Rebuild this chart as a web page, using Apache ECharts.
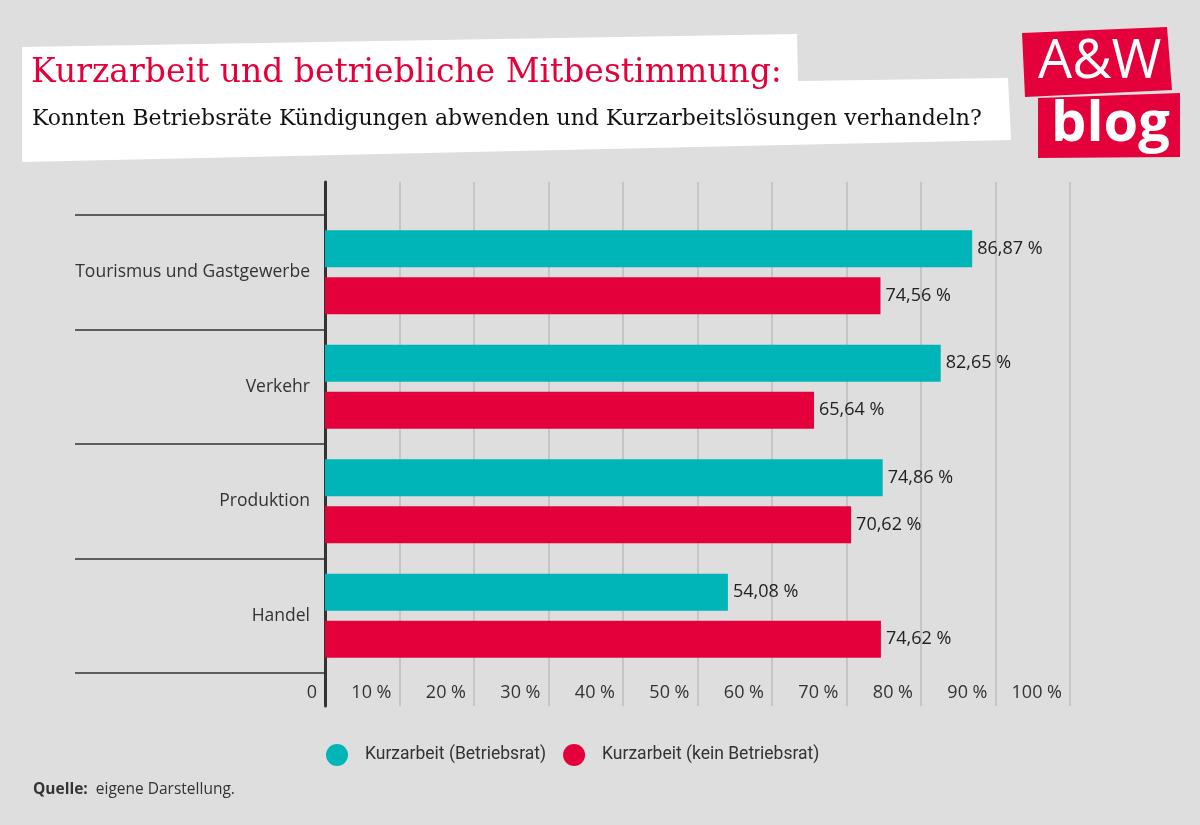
<!DOCTYPE html>
<html>
<head>
<meta charset="utf-8">
<script src="https://cdn.jsdelivr.net/npm/echarts@6/dist/echarts.min.js"></script>
<style>
html,body{margin:0;padding:0;background:#dedede;}
#chart{width:1200px;height:825px;}
</style>
</head>
<body>
<div id="chart"></div>
<script>
const categories = ['Tourismus und Gastgewerbe', 'Verkehr', 'Produktion', 'Handel'];
const seriesNames = ['Kurzarbeit (Betriebsrat)', 'Kurzarbeit (kein Betriebsrat)'];
const withBR = [86.87, 82.65, 74.86, 54.08];
const withoutBR = [74.56, 65.64, 70.62, 74.62];
const xTicks = [0, 10, 20, 30, 40, 50, 60, 70, 80, 90, 100];

const TEAL = '#00b5b8';
const RED = '#e4003a';
const FONT = '"Open Sans", "Noto Sans", sans-serif';

const chart = echarts.init(document.getElementById('chart'));

const fmtVal = v => v.toFixed(2).replace('.', ',') + ' %';
const fmtTick = v => (v === 0 ? '0' : v + ' %');

const option = {
  backgroundColor: '#dedede',
  animation: false,
  title: [
    {
      text: 'Kurzarbeit und betriebliche Mitbestimmung:',
      left: 31, top: 57, padding: 0,
      textStyle: {fontFamily: '"DejaVu Serif", serif', fontSize: 33, fontWeight: 'normal', color: RED}
    },
    {
      text: 'Konnten Betriebsräte Kündigungen abwenden und Kurzarbeitslösungen verhandeln?',
      left: 32, top: 108, padding: 0,
      textStyle: {fontFamily: '"DejaVu Serif", serif', fontSize: 22, fontWeight: 'normal', color: '#111'}
    },
    {
      text: '{b|Quelle:}  eigene Darstellung.',
      left: 33, top: 782, padding: 0,
      textStyle: {
        fontFamily: FONT, fontSize: 15.5, color: '#333', fontWeight: 'normal',
        rich: {b: {fontFamily: FONT, fontSize: 15.5, fontWeight: 'bold', color: '#333'}}
      }
    }
  ],
  legend: {
    data: seriesNames,
    left: 326, top: 744, padding: 0,
    icon: 'circle',
    itemWidth: 22, itemHeight: 22,
    itemGap: 17,
    textStyle: {fontFamily: 'Roboto, sans-serif', fontSize: 17.5, color: '#333', padding: [0, 0, 0, 12]}
  },
  grid: [
    {left: 325, width: 745, top: 182, height: 524, containLabel: false},
    {left: 325, width: 745, top: 215, height: 458, containLabel: false}
  ],
  xAxis: [
    {
      gridIndex: 0, type: 'value', min: 0, max: 100, interval: 10,
      axisLine: {show: false}, axisTick: {show: false}, axisLabel: {show: false},
      splitLine: {show: true, lineStyle: {color: '#bdbdbd', width: 1.5}}
    },
    {
      gridIndex: 1, type: 'value', min: 0, max: 100, interval: 10,
      axisLine: {show: false}, axisTick: {show: false},
      splitLine: {show: false},
      axisLabel: {
        show: true, margin: 10, align: 'right', padding: [0, 8, 0, 0],
        lineHeight: 20,
        fontFamily: FONT, fontSize: 18, color: '#333',
        formatter: fmtTick,
        customValues: xTicks
      }
    }
  ],
  yAxis: [
    {
      gridIndex: 0, type: 'value', min: 0, max: 1,
      axisLine: {show: true, onZero: false, lineStyle: {color: '#333', width: 3}},
      axisTick: {show: false}, axisLabel: {show: false}, splitLine: {show: false}
    },
    {
      gridIndex: 1, type: 'category', data: categories, inverse: true,
      axisLine: {show: false},
      axisTick: {show: true, length: 250, lineStyle: {color: '#333', width: 1.5}},
      axisLabel: {margin: 15, fontFamily: FONT, fontSize: 17.5, color: '#333'},
      splitLine: {show: false}
    }
  ],
  series: [
    {
      name: seriesNames[0], type: 'bar', xAxisIndex: 1, yAxisIndex: 1,
      data: withBR, barWidth: 37, barGap: '27%',
      itemStyle: {color: TEAL},
      label: {show: true, position: 'right', distance: 5, fontFamily: FONT, fontSize: 18, color: '#222',
        formatter: p => fmtVal(p.value)}
    },
    {
      name: seriesNames[1], type: 'bar', xAxisIndex: 1, yAxisIndex: 1,
      data: withoutBR, barWidth: 37, barGap: '27%',
      itemStyle: {color: RED},
      label: {show: true, position: 'right', distance: 5, fontFamily: FONT, fontSize: 18, color: '#222',
        formatter: p => fmtVal(p.value)}
    }
  ],
  graphic: [
    {
      type: 'polygon', z: -1, silent: true,
      shape: {points: [[22, 47], [797, 34], [798, 81], [1008, 78], [1011, 140], [22, 162]]},
      style: {fill: '#ffffff'}
    },
    {
      type: 'polygon', z: 10, silent: true,
      shape: {points: [[1022, 33], [1167, 27], [1172, 90], [1025, 97]]},
      style: {fill: RED}
    },
    {
      type: 'polygon', z: 10, silent: true,
      shape: {points: [[1038, 98], [1180, 93], [1180, 157], [1038, 158]]},
      style: {fill: RED}
    },
    {
      type: 'text', z: 11, silent: true, left: 1038, top: 36,
      style: {text: 'A&W', fill: '#fff', font: 'normal 54px "Open Sans", sans-serif'}
    },
    {
      type: 'text', z: 11, silent: true, left: 1051, top: 97,
      style: {text: 'blog', fill: '#fff', font: 'bold 56px "Open Sans", sans-serif'}
    }
  ]
};
chart.setOption(option);
</script>
</body>
</html>
